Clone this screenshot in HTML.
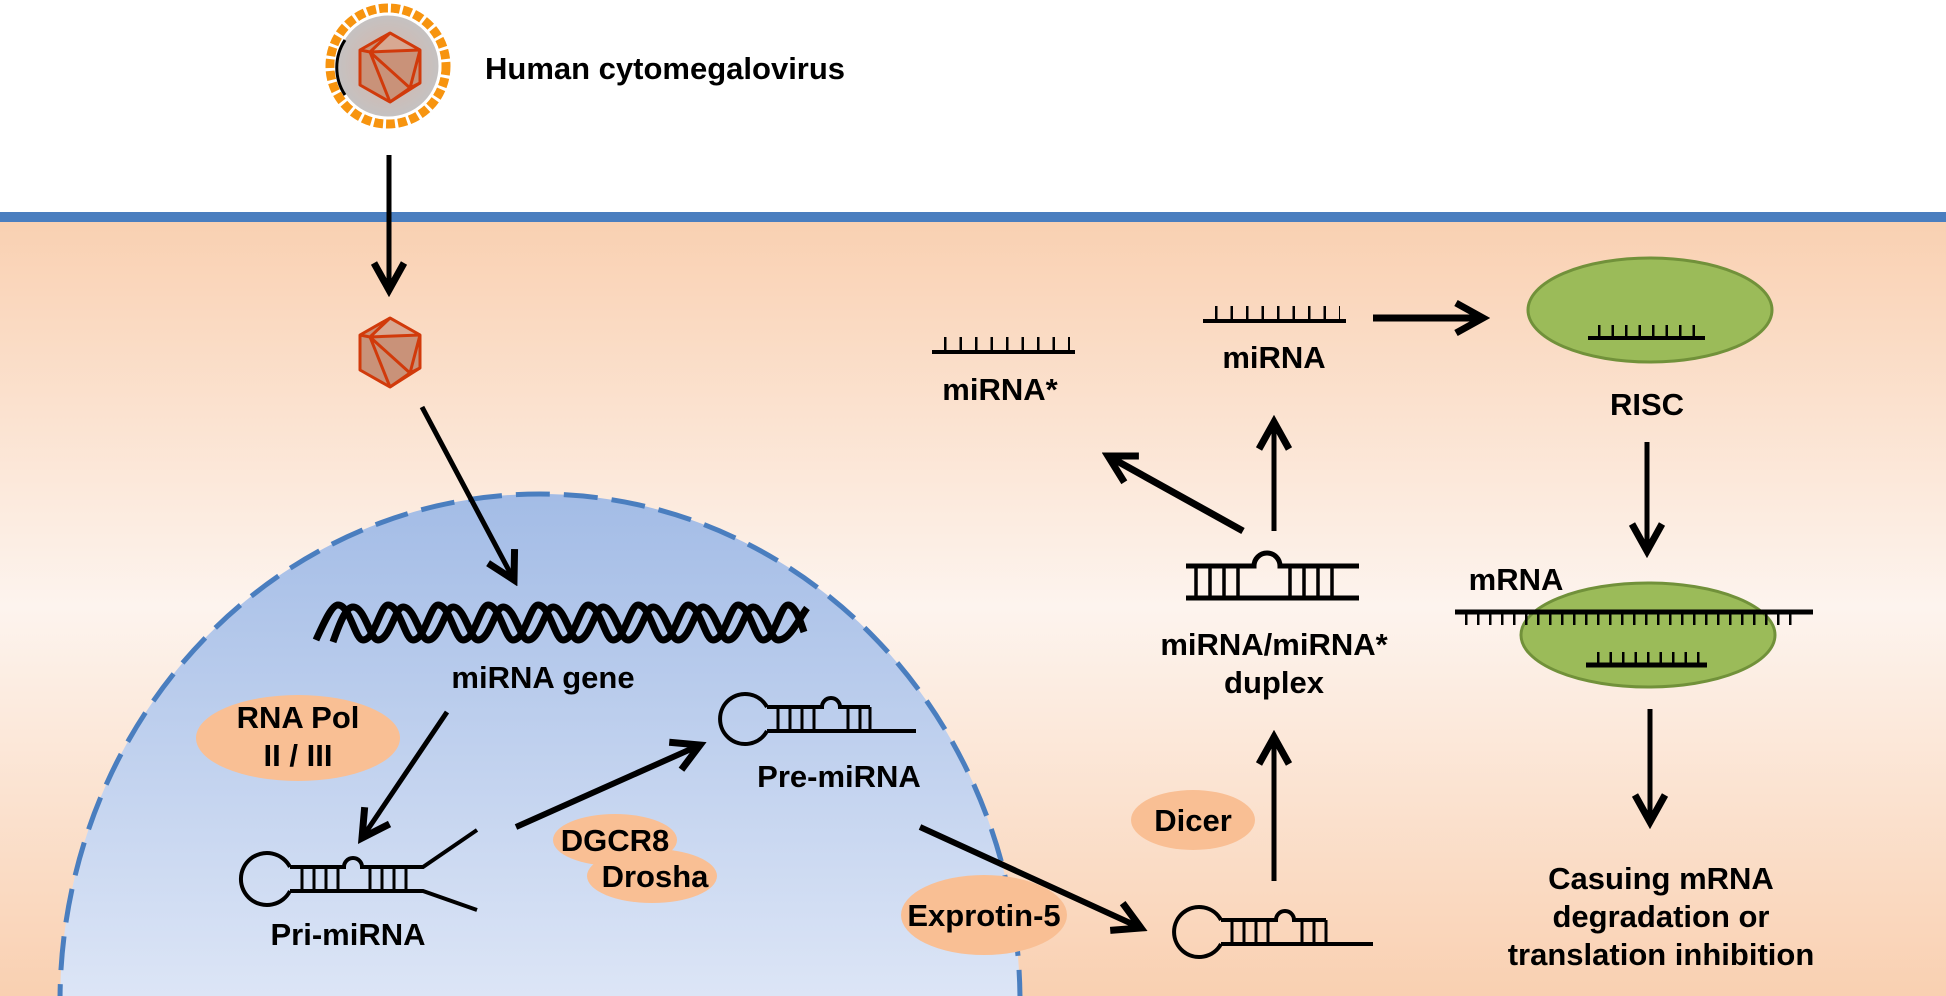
<!DOCTYPE html>
<html><head><meta charset="utf-8"><style>
html,body{margin:0;padding:0;background:#fff;width:1946px;height:996px;overflow:hidden}
svg{display:block}
text{font-family:"Liberation Sans",Arial,sans-serif;font-weight:bold;font-size:31px;fill:#000}
</style></head><body>
<svg width="1946" height="996" viewBox="0 0 1946 996" xmlns="http://www.w3.org/2000/svg">
<defs>
<linearGradient id="cyto" x1="0" y1="0" x2="0" y2="1">
<stop offset="0" stop-color="#f9d0b1"/>
<stop offset="0.5" stop-color="#fdf4ee"/>
<stop offset="1" stop-color="#f9d0b1"/>
</linearGradient>
<linearGradient id="nuc" x1="0" y1="0" x2="0" y2="1">
<stop offset="0" stop-color="#a3bce6"/>
<stop offset="0.65" stop-color="#eef2fb"/>
<stop offset="1" stop-color="#c3d3ec"/>
</linearGradient>
<radialGradient id="vir" cx="0.5" cy="0.5" r="0.5">
<stop offset="0" stop-color="#d9b4a6"/>
<stop offset="1" stop-color="#c4c2c2"/>
</radialGradient>
<marker id="ah" viewBox="0 0 40 40" refX="33" refY="20" markerWidth="40" markerHeight="40" markerUnits="userSpaceOnUse" orient="auto">
<path d="M6,5 L33,20 L6,35" fill="none" stroke="#000" stroke-width="7" stroke-linejoin="miter"/>
</marker>
<g id="ico">
<polygon points="390,33 420,50 420,83 390,102 360,85 360,50" fill="#c99279" stroke="#d13a0b" stroke-width="3" stroke-linejoin="round"/>
<polygon points="390,33 420,50 370,52" fill="#e3b7a3" opacity="0.6"/>
<path d="M390,33 L370,52 L360,50 M370,52 L420,50 M370,52 L410,88 L420,83 M370,52 L390,102 M410,88 L390,102 M410,88 L420,50 M390,33 L420,50" fill="none" stroke="#d13a0b" stroke-width="3" stroke-linejoin="round"/>
</g>
</defs>

<rect x="0" y="217" width="1946" height="779" fill="url(#cyto)"/>
<rect x="0" y="212" width="1946" height="10" fill="#4a7ebf"/>

<ellipse cx="540" cy="1002" rx="480" ry="508" fill="url(#nuc)" stroke="#4a7ebf" stroke-width="5" stroke-dasharray="34 14"/>

<!-- virus -->
<circle cx="388" cy="66" r="58" fill="none" stroke="#f7940f" stroke-width="9" stroke-dasharray="9 3"/>
<circle cx="388" cy="66" r="52" fill="url(#vir)" stroke="#fff" stroke-width="3"/>
<path d="M345,40 A50,50 0 0 0 345,95" fill="none" stroke="#000" stroke-width="3"/>
<use href="#ico"/>
<text x="485" y="79">Human cytomegalovirus</text>

<line x1="389" y1="155" x2="389" y2="290" stroke="#000" stroke-width="5" marker-end="url(#ah)"/>
<use href="#ico" transform="translate(0,285)"/>

<line x1="422" y1="407" x2="514" y2="580" stroke="#000" stroke-width="5" marker-end="url(#ah)"/>

<!-- DNA helix -->
<path d="M316,640 C325,620 332,605 338,605 C350,605 355,640 363,640 C375,640 380,605 388,605 C400,605 405,640 413,640 C425,640 430,605 438,605 C450,605 455,640 463,640 C475,640 480,605 488,605 C500,605 505,640 513,640 C525,640 530,605 538,605 C550,605 555,640 563,640 C575,640 580,605 588,605 C600,605 605,640 613,640 C625,640 630,605 638,605 C650,605 655,640 663,640 C675,640 680,605 688,605 C700,605 705,640 713,640 C725,640 730,605 738,605 C750,605 755,640 763,640 C775,640 780,605 788,605 C795,605 800,620 804,632" fill="none" stroke="#000" stroke-width="7"/>
<path d="M333,642 C340,622 346,607 353,607 C365,607 370,640 378,640 C390,640 395,607 403,607 C415,607 420,640 428,640 C440,640 445,607 453,607 C465,607 470,640 478,640 C490,640 495,607 503,607 C515,607 520,640 528,640 C540,640 545,607 553,607 C565,607 570,640 578,640 C590,640 595,607 603,607 C615,607 620,640 628,640 C640,640 645,607 653,607 C665,607 670,640 678,640 C690,640 695,607 703,607 C715,607 720,640 728,640 C740,640 745,607 753,607 C765,607 770,640 778,640 C790,640 798,620 807,608" fill="none" stroke="#000" stroke-width="7"/>
<text x="543" y="688" text-anchor="middle">miRNA gene</text>

<ellipse cx="298" cy="738" rx="102" ry="43" fill="#f9bf94"/>
<text x="298" y="728" text-anchor="middle">RNA Pol</text>
<text x="298" y="766" text-anchor="middle">II / III</text>

<line x1="447" y1="712" x2="362" y2="838" stroke="#000" stroke-width="5" marker-end="url(#ah)"/>

<!-- Pri-miRNA -->
<g fill="none" stroke="#000" stroke-width="4">
<path d="M290,867 A26,26 0 1 0 290,891"/>
<path d="M290,867 H344 A9,9 0 0 1 362,867 H423 L477,830"/>
<path d="M290,891 H423 L477,910"/>
<path d="M302,867 V891 M314,867 V891 M326,867 V891 M338,867 V891 M370,867 V891 M382,867 V891 M394,867 V891 M406,867 V891" stroke-width="3"/>
</g>
<text x="348" y="945" text-anchor="middle">Pri-miRNA</text>

<line x1="516" y1="827" x2="700" y2="745" stroke="#000" stroke-width="6" marker-end="url(#ah)"/>

<ellipse cx="615" cy="840" rx="62" ry="26" fill="#f9bf94"/>
<ellipse cx="652" cy="876" rx="65" ry="27" fill="#f9bf94"/>
<text x="615" y="851" text-anchor="middle">DGCR8</text>
<text x="655" y="887" text-anchor="middle">Drosha</text>

<!-- Pre-miRNA -->
<g fill="none" stroke="#000" stroke-width="4">
<path d="M767,707 A25,25 0 1 0 767,731"/>
<path d="M767,707 H822 A9,9 0 0 1 840,707 H870"/>
<path d="M767,731 H916"/>
<path d="M778,707 V731 M790,707 V731 M802,707 V731 M814,707 V731 M848,707 V731 M860,707 V731 M870,707 V731" stroke-width="3"/>
</g>
<text x="839" y="787" text-anchor="middle">Pre-miRNA</text>

<line x1="920" y1="827" x2="1141" y2="928" stroke="#000" stroke-width="6" marker-end="url(#ah)"/>

<ellipse cx="984" cy="915" rx="83" ry="40" fill="#f9bf94"/>
<text x="984" y="926" text-anchor="middle">Exprotin-5</text>

<g fill="none" stroke="#000" stroke-width="4">
<path d="M1221,920 A25,25 0 1 0 1221,944"/>
<path d="M1221,920 H1276 A9,9 0 0 1 1294,920 H1326"/>
<path d="M1221,944 H1373"/>
<path d="M1232,920 V944 M1244,920 V944 M1256,920 V944 M1268,920 V944 M1302,920 V944 M1314,920 V944 M1326,920 V944" stroke-width="3"/>
</g>

<ellipse cx="1193" cy="820" rx="62" ry="30" fill="#f9bf94"/>
<text x="1193" y="831" text-anchor="middle">Dicer</text>

<line x1="1274" y1="881" x2="1274" y2="737" stroke="#000" stroke-width="5" marker-end="url(#ah)"/>

<g fill="none" stroke="#000" stroke-width="5">
<path d="M1186,566 H1254 A13,13 0 0 1 1280,566 H1359"/>
<path d="M1186,598 H1359"/>
<path d="M1196,566 V598 M1210,566 V598 M1224,566 V598 M1238,566 V598 M1290,566 V598 M1304,566 V598 M1318,566 V598 M1332,566 V598" stroke-width="3.5"/>
</g>
<text x="1274" y="655" text-anchor="middle">miRNA/miRNA*</text>
<text x="1274" y="693" text-anchor="middle">duplex</text>

<line x1="1274" y1="531" x2="1274" y2="422" stroke="#000" stroke-width="5" marker-end="url(#ah)"/>
<line x1="1243" y1="531" x2="1108" y2="456" stroke="#000" stroke-width="7" marker-end="url(#ah)"/>

<line x1="932" y1="352" x2="1075" y2="352" stroke="#000" stroke-width="4"/>
<line x1="944" y1="344" x2="1070" y2="344" stroke="#000" stroke-width="14" stroke-dasharray="2.5 13"/>
<text x="1000" y="400" text-anchor="middle">miRNA*</text>

<line x1="1203" y1="321" x2="1346" y2="321" stroke="#000" stroke-width="4"/>
<line x1="1215" y1="313" x2="1340" y2="313" stroke="#000" stroke-width="14" stroke-dasharray="2.5 13"/>
<text x="1274" y="368" text-anchor="middle">miRNA</text>

<line x1="1373" y1="318" x2="1483" y2="318" stroke="#000" stroke-width="7" marker-end="url(#ah)"/>

<ellipse cx="1650" cy="310" rx="122" ry="52" fill="#9bbb59" stroke="#71913a" stroke-width="3"/>
<line x1="1588" y1="338" x2="1705" y2="338" stroke="#000" stroke-width="4"/>
<line x1="1598" y1="331" x2="1700" y2="331" stroke="#000" stroke-width="12" stroke-dasharray="2.5 11"/>
<text x="1647" y="415" text-anchor="middle">RISC</text>

<line x1="1647" y1="442" x2="1647" y2="551" stroke="#000" stroke-width="5" marker-end="url(#ah)"/>

<text x="1516" y="590" text-anchor="middle">mRNA</text>
<ellipse cx="1648" cy="635" rx="127" ry="52" fill="#9bbb59" stroke="#71913a" stroke-width="3"/>
<line x1="1455" y1="612" x2="1813" y2="612" stroke="#000" stroke-width="5"/>
<line x1="1465" y1="619" x2="1795" y2="619" stroke="#000" stroke-width="12" stroke-dasharray="2.5 9.5"/>
<line x1="1586" y1="665" x2="1707" y2="665" stroke="#000" stroke-width="5"/>
<line x1="1597" y1="658" x2="1700" y2="658" stroke="#000" stroke-width="12" stroke-dasharray="2.5 10"/>

<line x1="1650" y1="709" x2="1650" y2="822" stroke="#000" stroke-width="5" marker-end="url(#ah)"/>

<text x="1661" y="889" text-anchor="middle">Casuing mRNA</text>
<text x="1661" y="927" text-anchor="middle">degradation or</text>
<text x="1661" y="965" text-anchor="middle">translation inhibition</text>
</svg>
</body></html>
